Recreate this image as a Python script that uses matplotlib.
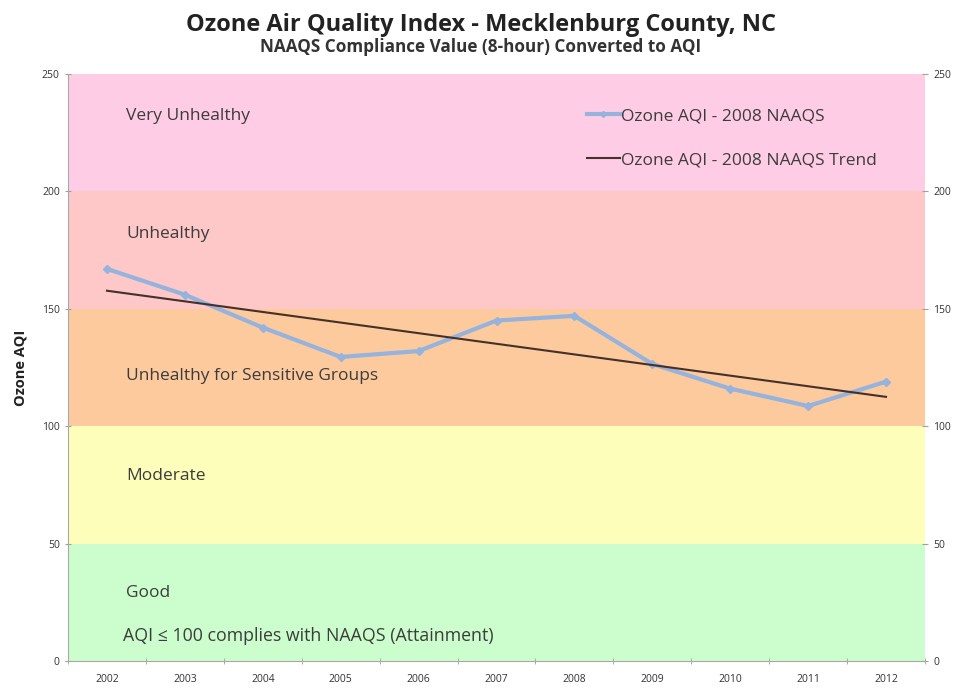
import matplotlib.pyplot as plt
from matplotlib.ticker import FixedLocator

plt.rcParams['font.family'] = ['Open Sans', 'DejaVu Sans']

years = ['2002', '2003', '2004', '2005', '2006', '2007', '2008', '2009', '2010', '2011', '2012']
ozone_aqi = [167, 156, 142, 129.5, 132, 145, 147, 126.5, 116, 108.6, 119]
trend_years = [0, 10]
trend_aqi = [157.7, 112.5]

band_edges = [0, 50, 100, 150, 200, 250]
band_names = ['Good', 'Moderate', 'Unhealthy for Sensitive Groups', 'Unhealthy', 'Very Unhealthy']
band_colors = ['#ccfdcc', '#fefebb', '#fdca9e', '#fec8c8', '#fecce5']
label_y = [29, 79, 121.5, 182, 232]

fig = plt.figure(figsize=(9.61, 6.89), dpi=100)
ax = fig.add_axes([0.0708, 0.0406, 0.8917, 0.852])

for i in range(len(band_names)):
    ax.axhspan(band_edges[i], band_edges[i + 1], color=band_colors[i], zorder=0, lw=0)
    ax.text(0.25, label_y[i], band_names[i], fontsize=12.5, color='#3c3c3c',
            ha='left', va='center')
ax.text(0.2, 10.5, 'AQI \u2264 100 complies with NAAQS (Attainment)', fontsize=12.8,
        color='#3c3c3c', ha='left', va='center')

x = list(range(len(years)))
ax.plot(x, ozone_aqi, color='#95b3dc', lw=3, marker='D', markersize=4.5,
        label='Ozone AQI - 2008 NAAQS', zorder=3)
ax.plot(trend_years, trend_aqi, color='#45302a', lw=1.5,
        label='Ozone AQI - 2008 NAAQS Trend', zorder=4)

ax.set_xlim(-0.5, 10.5)
ax.set_ylim(0, 250)
ax.set_xticks(x)
ax.set_xticklabels(years)
ax.xaxis.set_minor_locator(FixedLocator([i - 0.5 for i in range(12)]))
ax.tick_params(axis='x', which='major', length=0, labelsize=7.5, colors='#333333', pad=9)
ax.tick_params(axis='x', which='minor', length=5, direction='inout', color='#a0a0a0')
ax.set_yticks(band_edges)
ax.tick_params(axis='y', length=5, direction='inout', color='#a0a0a0', labelsize=7.5,
               labelcolor='#333333', labelright=True, right=True)
for s in ['top', 'right']:
    ax.spines[s].set_visible(False)
ax.spines['left'].set_color('#a8a8a8')
ax.spines['bottom'].set_color('#a8a8a8')

ax.set_ylabel('Ozone AQI', fontsize=10.5, fontweight='bold', color='#222222', labelpad=10)

leg = ax.legend(loc='upper left', bbox_to_anchor=(0.587, 0.968), frameon=False,
                fontsize=12.5, handlelength=1.9, handletextpad=0.05, labelspacing=1.6,
                labelcolor='#3c3c3c')
for h in leg.legend_handles:
    h.set_markersize(3)

fig.text(0.5, 0.963, 'Ozone Air Quality Index - Mecklenburg County, NC', ha='center',
         va='center', fontsize=17, fontweight='bold', color='#222222')
fig.text(0.5, 0.932, 'NAAQS Compliance Value (8-hour) Converted to AQI', ha='center',
         va='center', fontsize=12.3, fontweight='bold', color='#333333')

fig.savefig('out.png', dpi=100, facecolor='white')
